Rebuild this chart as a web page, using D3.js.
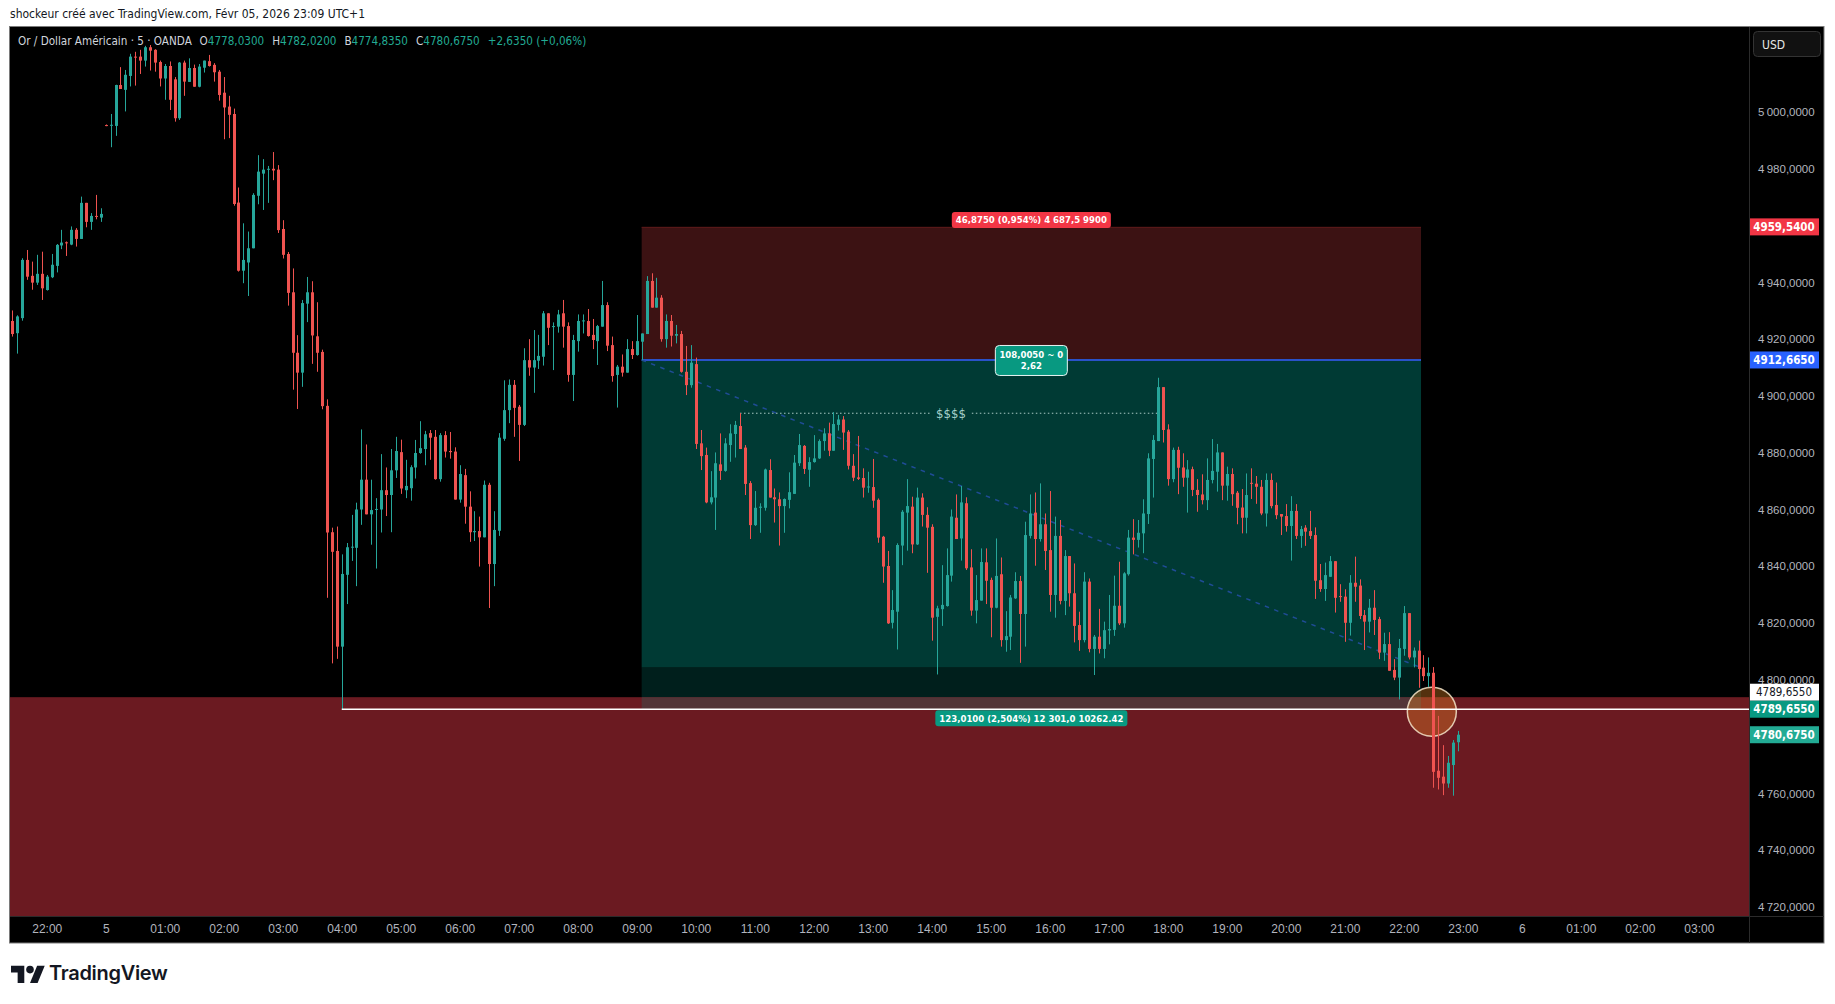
<!DOCTYPE html>
<html>
<head>
<meta charset="utf-8">
<script src="https://cdn.jsdelivr.net/npm/d3@7"></script>
<style>
    html, body { margin: 0; padding: 0; background: #ffffff; }
    svg { display: block; font-family: "Liberation Sans Narrow", "DejaVu Sans Condensed", "Liberation Sans", sans-serif; }
</style>
</head>
<body>
<svg id="chart" width="1835" height="1004"></svg>
<script>
// XAUUSD 5 min candles, Feb 4 22:00 -> Feb 5 22:55
const opens = [
    4926.4, 4922.1, 4927.4, 4947.9, 4942.3, 4939.9, 4943.0, 4937.3, 4941.8, 4945.8,
    4953.0, 4954.1, 4953.3, 4958.5, 4955.3, 4968.0, 4961.3, 4963.4, 4962.8, 4995.4,
    4995.2, 4995.1, 5009.5, 5007.8, 5012.7, 5019.5, 5019.5, 5018.1, 5022.8, 5021.9,
    5017.6, 5011.8, 5016.2, 5011.5, 4997.8, 5017.4, 5010.6, 5015.5, 5008.9, 5015.6,
    5017.9, 5016.6, 5014.2, 5006.8, 5001.9, 4999.3, 4968.1, 4944.1, 4947.0, 4952.0,
    4970.5, 4978.3, 4979.7, 4980.0, 4979.7, 4958.8, 4950.0, 4936.5, 4915.2, 4908.2,
    4932.5, 4936.5, 4921.0, 4915.5, 4896.5, 4852.0, 4845.4, 4811.7, 4837.0, 4846.7,
    4846.5, 4860.0, 4870.5, 4858.3, 4860.0, 4860.0, 4866.8, 4865.1, 4873.8, 4880.2,
    4866.8, 4867.5, 4874.8, 4879.9, 4881.3, 4886.9, 4885.6, 4870.7, 4886.2, 4880.6,
    4880.4, 4863.5, 4872.1, 4861.0, 4852.0, 4852.4, 4850.2, 4868.7, 4840.8, 4852.5,
    4884.9, 4895.0, 4903.9, 4896.2, 4889.8, 4912.6, 4910.0, 4912.4, 4913.8, 4929.1,
    4924.4, 4924.4, 4929.1, 4924.6, 4907.4, 4919.3, 4926.4, 4926.4, 4921.5, 4919.3,
    4924.4, 4932.0, 4917.9, 4907.4, 4910.3, 4908.2, 4916.5, 4914.4, 4919.1, 4921.8,
    4940.5, 4931.1, 4934.6, 4920.0, 4926.4, 4921.2, 4921.8, 4908.5, 4903.8, 4911.2,
    4883.3, 4879.2, 4862.5, 4864.2, 4875.9, 4873.6, 4882.7, 4886.6, 4889.4, 4881.8,
    4869.3, 4854.5, 4860.6, 4860.6, 4873.9, 4864.3, 4863.6, 4861.2, 4863.4, 4865.5,
    4876.3, 4882.4, 4874.0, 4876.7, 4878.0, 4884.1, 4886.8, 4880.7, 4889.8, 4891.7,
    4887.4, 4875.4, 4871.3, 4871.1, 4867.9, 4867.9, 4863.4, 4850.4, 4840.1, 4820.1,
    4824.0, 4847.3, 4858.9, 4861.0, 4847.7, 4864.2, 4858.1, 4853.9, 4822.2, 4824.9,
    4826.0, 4836.7, 4857.1, 4849.8, 4862.2, 4839.6, 4824.4, 4827.9, 4841.4, 4835.2,
    4825.4, 4837.2, 4814.0, 4815.2, 4828.7, 4834.8, 4823.2, 4850.7, 4858.9, 4849.6,
    4854.8, 4845.7, 4829.9, 4850.7, 4827.8, 4843.6, 4830.5, 4819.3, 4814.0, 4834.6,
    4810.9, 4815.2, 4810.9, 4817.4, 4817.6, 4826.1, 4819.9, 4837.2, 4850.1, 4849.3,
    4851.6, 4858.4, 4877.8, 4884.1, 4903.1, 4888.2, 4870.7, 4881.0, 4874.8, 4871.2,
    4874.2, 4866.9, 4865.3, 4863.3, 4870.4, 4873.3, 4880.1, 4868.4, 4872.5, 4865.9,
    4860.7, 4857.1, 4869.4, 4869.1, 4868.0, 4858.6, 4870.4, 4861.6, 4858.4, 4857.7,
    4854.2, 4859.5, 4850.7, 4853.6, 4852.4, 4851.0, 4835.1, 4832.0, 4836.3, 4841.8,
    4829.5, 4829.3, 4820.1, 4834.2, 4833.2, 4822.8, 4820.5, 4825.4, 4821.4, 4809.6,
    4812.6, 4803.5, 4800.8, 4810.9, 4823.5, 4807.9, 4810.3, 4804.3, 4801.3, 4802.5,
    4768.0, 4765.9, 4763.5, 4770.0, 4778.03
];
const highs = [
    4930.1, 4928.4, 4948.5, 4951.4, 4947.3, 4949.7, 4950.8, 4942.6, 4950.0, 4953.5,
    4958.5, 4954.4, 4959.7, 4959.1, 4970.2, 4968.0, 4964.4, 4970.8, 4966.1, 4995.6,
    4999.3, 5009.6, 5015.8, 5014.8, 5020.5, 5021.2, 5021.9, 5023.3, 5023.6, 5022.1,
    5018.1, 5016.9, 5017.8, 5012.3, 5017.6, 5018.1, 5018.9, 5016.7, 5016.9, 5018.1,
    5020.1, 5017.2, 5014.8, 5012.3, 5005.7, 5001.2, 4973.4, 4960.8, 4957.9, 4971.4,
    4984.8, 4983.4, 4981.0, 4985.9, 4981.3, 4961.9, 4950.7, 4944.9, 4921.4, 4933.8,
    4941.9, 4940.4, 4933.0, 4916.3, 4898.8, 4853.6, 4854.0, 4844.2, 4848.2, 4858.1,
    4862.4, 4888.2, 4882.9, 4870.5, 4864.0, 4879.5, 4874.8, 4881.3, 4885.6, 4884.6,
    4877.5, 4875.6, 4884.5, 4891.1, 4887.7, 4888.0, 4888.0, 4886.9, 4887.6, 4887.3,
    4881.9, 4875.6, 4874.3, 4866.4, 4859.4, 4857.5, 4870.2, 4869.4, 4859.4, 4886.9,
    4905.5, 4905.8, 4905.6, 4896.8, 4916.8, 4920.0, 4923.2, 4921.5, 4929.9, 4929.1,
    4925.9, 4930.3, 4933.8, 4925.9, 4921.5, 4928.7, 4928.7, 4930.6, 4927.1, 4925.0,
    4940.5, 4933.0, 4920.9, 4910.9, 4914.6, 4920.0, 4919.3, 4928.5, 4922.0, 4942.2,
    4943.2, 4941.6, 4935.5, 4928.7, 4928.5, 4925.0, 4922.9, 4917.6, 4917.9, 4913.5,
    4888.0, 4881.8, 4873.5, 4880.1, 4886.8, 4885.1, 4890.0, 4891.2, 4893.9, 4882.7,
    4870.0, 4866.5, 4862.2, 4874.4, 4877.7, 4867.4, 4866.0, 4863.9, 4873.1, 4879.2,
    4886.6, 4882.7, 4878.4, 4886.2, 4884.7, 4888.6, 4890.6, 4894.3, 4893.3, 4892.9,
    4888.0, 4879.5, 4885.9, 4874.5, 4873.3, 4877.8, 4863.9, 4850.7, 4845.4, 4831.6,
    4848.1, 4859.8, 4870.7, 4864.5, 4867.7, 4865.7, 4860.8, 4854.8, 4826.1, 4840.4,
    4846.3, 4860.0, 4865.3, 4868.3, 4864.3, 4846.0, 4836.9, 4846.3, 4846.3, 4836.0,
    4849.8, 4843.1, 4824.2, 4829.9, 4837.9, 4836.6, 4855.7, 4865.3, 4866.0, 4869.2,
    4858.6, 4866.5, 4857.5, 4856.3, 4845.7, 4843.6, 4841.0, 4824.0, 4837.9, 4835.7,
    4815.8, 4825.0, 4820.5, 4829.9, 4836.7, 4841.6, 4837.9, 4852.8, 4856.6, 4856.3,
    4863.6, 4879.8, 4886.2, 4906.4, 4903.1, 4890.0, 4881.8, 4882.1, 4879.8, 4877.4,
    4875.1, 4870.7, 4872.4, 4878.0, 4884.8, 4883.1, 4880.1, 4875.1, 4874.5, 4866.5,
    4867.2, 4872.7, 4874.5, 4871.8, 4870.4, 4872.7, 4872.7, 4869.5, 4858.4, 4861.9,
    4864.7, 4861.9, 4854.2, 4854.5, 4859.5, 4853.7, 4840.8, 4841.3, 4843.6, 4841.8,
    4833.7, 4831.9, 4836.9, 4843.4, 4835.4, 4824.6, 4828.5, 4831.6, 4822.2, 4816.6,
    4816.8, 4807.3, 4814.4, 4826.0, 4823.5, 4811.4, 4813.8, 4808.7, 4807.9, 4804.5,
    4787.3, 4777.0, 4773.2, 4778.8, 4782.02
];
const lows = [
    4920.9, 4914.9, 4926.5, 4940.9, 4937.4, 4939.1, 4933.8, 4937.1, 4941.5, 4943.5,
    4951.7, 4949.3, 4953.1, 4952.6, 4955.3, 4959.4, 4958.5, 4962.2, 4961.3, 4995.0,
    4987.6, 4991.6, 5008.1, 5000.2, 5009.0, 5009.3, 5013.4, 5016.0, 5014.6, 5014.2,
    5009.0, 5004.3, 5000.7, 4996.6, 4997.2, 5005.7, 5010.6, 5008.9, 5008.7, 5013.9,
    5016.0, 5010.7, 5004.0, 4990.4, 4990.8, 4967.0, 4943.8, 4939.7, 4935.2, 4952.0,
    4967.5, 4965.5, 4968.0, 4976.0, 4957.4, 4948.4, 4931.8, 4902.2, 4895.4, 4903.2,
    4926.0, 4911.3, 4908.5, 4895.3, 4828.9, 4805.8, 4807.4, 4789.655, 4826.7, 4841.9,
    4833.0, 4854.6, 4858.3, 4847.6, 4839.2, 4851.9, 4857.7, 4852.0, 4871.1, 4865.5,
    4864.0, 4863.1, 4870.9, 4879.6, 4875.6, 4877.5, 4870.5, 4869.8, 4878.3, 4877.9,
    4863.5, 4862.4, 4855.0, 4848.6, 4848.9, 4839.9, 4850.2, 4825.3, 4833.0, 4850.7,
    4884.2, 4890.4, 4885.6, 4877.1, 4889.4, 4907.1, 4901.1, 4909.5, 4910.7, 4917.9,
    4909.1, 4922.3, 4917.0, 4905.0, 4898.2, 4915.6, 4922.0, 4920.9, 4916.5, 4910.9,
    4924.4, 4915.8, 4905.0, 4895.9, 4906.8, 4908.2, 4913.0, 4914.2, 4912.6, 4921.8,
    4931.1, 4931.1, 4919.1, 4917.0, 4917.4, 4918.5, 4908.2, 4900.3, 4902.9, 4881.3,
    4873.9, 4862.2, 4861.8, 4852.8, 4870.4, 4873.3, 4876.8, 4878.3, 4881.3, 4865.1,
    4849.6, 4854.2, 4851.8, 4859.6, 4864.2, 4855.4, 4847.3, 4851.8, 4860.4, 4865.5,
    4875.3, 4872.5, 4868.0, 4876.5, 4877.8, 4880.7, 4878.8, 4880.7, 4887.8, 4881.0,
    4874.1, 4870.0, 4870.4, 4864.2, 4865.9, 4860.6, 4848.3, 4834.2, 4819.7, 4818.1,
    4810.7, 4840.4, 4845.5, 4844.6, 4847.5, 4854.0, 4837.7, 4813.8, 4801.9, 4819.0,
    4825.8, 4834.6, 4849.6, 4842.0, 4838.7, 4822.6, 4819.9, 4827.9, 4826.7, 4815.0,
    4825.2, 4811.7, 4809.9, 4810.5, 4828.5, 4806.0, 4811.7, 4849.8, 4840.2, 4848.7,
    4838.7, 4824.0, 4821.9, 4826.6, 4822.8, 4825.8, 4813.2, 4810.2, 4813.2, 4809.7,
    4801.7, 4809.3, 4807.6, 4812.5, 4815.5, 4819.3, 4818.4, 4836.7, 4844.2, 4846.6,
    4844.6, 4854.9, 4864.2, 4884.1, 4883.6, 4868.4, 4869.6, 4865.4, 4868.0, 4858.9,
    4864.7, 4859.2, 4861.8, 4859.8, 4869.2, 4866.3, 4863.3, 4863.1, 4861.3, 4854.8,
    4851.6, 4851.6, 4863.7, 4862.0, 4858.0, 4854.0, 4860.4, 4856.6, 4851.0, 4852.2,
    4842.0, 4849.6, 4846.5, 4847.2, 4849.6, 4828.5, 4831.0, 4827.8, 4836.3, 4823.7,
    4827.5, 4813.4, 4815.6, 4827.5, 4821.4, 4810.5, 4816.7, 4815.8, 4807.3, 4806.7,
    4803.2, 4799.9, 4793.1, 4808.5, 4807.2, 4804.4, 4797.2, 4799.6, 4797.5, 4762.0,
    4761.4, 4759.4, 4762.0, 4759.2, 4774.835
];
const closes = [
    4921.8, 4928.0, 4947.9, 4942.0, 4939.9, 4943.0, 4937.9, 4942.0, 4946.2, 4953.2,
    4954.0, 4953.8, 4958.5, 4955.3, 4968.0, 4961.3, 4963.4, 4963.1, 4964.1, 4995.2,
    4995.5, 5009.5, 5008.1, 5013.1, 5019.5, 5019.3, 5018.1, 5022.8, 5021.6, 5017.4,
    5011.8, 5016.2, 5004.3, 4997.8, 5017.4, 5010.7, 5015.5, 5008.9, 5016.0, 5018.1,
    5016.2, 5014.0, 5006.0, 5001.6, 4999.0, 4967.6, 4944.1, 4947.9, 4952.0, 4970.8,
    4979.0, 4979.7, 4980.0, 4979.4, 4958.4, 4949.7, 4936.3, 4915.2, 4908.2, 4932.7,
    4936.5, 4921.3, 4915.2, 4896.4, 4851.9, 4845.1, 4811.7, 4837.3, 4846.7, 4846.9,
    4860.0, 4870.5, 4858.3, 4859.8, 4860.2, 4866.8, 4865.1, 4873.8, 4880.6, 4867.4,
    4868.3, 4874.9, 4879.9, 4881.6, 4886.5, 4885.3, 4870.7, 4886.2, 4880.4, 4880.2,
    4863.5, 4872.5, 4861.0, 4852.0, 4852.4, 4850.2, 4868.7, 4840.8, 4852.8, 4885.3,
    4895.0, 4903.9, 4895.8, 4889.8, 4912.6, 4910.0, 4912.6, 4914.1, 4929.1, 4924.0,
    4924.6, 4928.7, 4924.4, 4907.4, 4919.7, 4926.4, 4926.6, 4921.1, 4919.7, 4924.6,
    4932.0, 4917.7, 4907.0, 4910.3, 4908.2, 4916.5, 4914.4, 4919.3, 4922.0, 4940.5,
    4931.1, 4934.6, 4920.0, 4926.4, 4921.2, 4921.8, 4908.5, 4903.8, 4911.7, 4883.1,
    4878.8, 4862.5, 4864.3, 4876.3, 4873.6, 4883.3, 4886.8, 4889.8, 4881.3, 4869.0,
    4854.5, 4860.6, 4861.0, 4874.1, 4864.2, 4863.6, 4861.2, 4863.7, 4866.1, 4876.5,
    4882.7, 4874.3, 4876.7, 4878.0, 4884.1, 4886.8, 4880.7, 4890.1, 4891.7, 4887.1,
    4875.4, 4871.2, 4870.8, 4867.7, 4868.1, 4863.1, 4850.1, 4839.9, 4819.9, 4824.6,
    4847.5, 4859.2, 4861.2, 4847.7, 4864.2, 4858.1, 4853.6, 4821.9, 4825.2, 4826.4,
    4836.9, 4857.5, 4849.6, 4862.5, 4839.3, 4824.4, 4828.1, 4841.5, 4834.9, 4825.4,
    4836.6, 4814.0, 4815.4, 4829.0, 4834.8, 4823.2, 4851.0, 4858.6, 4849.6, 4854.8,
    4845.4, 4829.9, 4850.7, 4827.8, 4843.6, 4830.5, 4819.0, 4814.0, 4834.6, 4810.9,
    4815.2, 4810.9, 4817.5, 4817.9, 4826.1, 4819.9, 4837.5, 4850.1, 4849.3, 4851.8,
    4858.6, 4878.0, 4884.5, 4903.1, 4888.0, 4870.7, 4881.0, 4874.7, 4871.2, 4874.1,
    4866.9, 4865.1, 4863.3, 4870.4, 4873.6, 4880.1, 4868.4, 4872.5, 4865.4, 4860.6,
    4857.1, 4865.1, 4869.1, 4868.0, 4858.6, 4870.4, 4861.2, 4858.0, 4857.5, 4854.2,
    4859.5, 4850.7, 4853.1, 4852.2, 4850.7, 4834.9, 4832.0, 4836.9, 4841.8, 4828.9,
    4829.2, 4820.1, 4834.2, 4832.8, 4822.5, 4820.5, 4825.4, 4821.1, 4809.6, 4812.6,
    4803.2, 4800.8, 4811.2, 4823.5, 4807.9, 4810.3, 4803.8, 4801.3, 4802.5, 4767.6,
    4765.5, 4763.5, 4770.8, 4777.9, 4780.675
];

// time axis: one label every 12 bars (1 hour), starting at bar 7
const timeTickLabels = ["22:00", "5", "01:00", "02:00", "03:00", "04:00", "05:00", "06:00", "07:00",
    "08:00", "09:00", "10:00", "11:00", "12:00", "13:00", "14:00", "15:00", "16:00", "17:00",
    "18:00", "19:00", "20:00", "21:00", "22:00", "23:00", "6", "01:00", "02:00", "03:00"];
const timeTickBars = d3.range(7, 7 + 12 * timeTickLabels.length, 12);
const priceTicks = [4720, 4740, 4760, 4780, 4800, 4820, 4840, 4860, 4880, 4900, 4920, 4940, 4960, 4980, 5000];

// drawings
const stopPrice = 4959.54;
const entryPrice = 4912.665;
const targetPrice = 4789.655;
const lastPrice = 4780.675;
const toolBars = [128, 286.5];
const closePrice = 4804.3;      // end of the dashed line / top of the dark band
const zoneTop = 4793.9;         // top of the red demand zone
const levelBar = 67;            // 04:00 low where the white level starts
const liquidity = { price: 4893.9, from: 148, to: 233.4, label: "$$$$", labelBar: 190.9 };
const circleAt = { bar: 288.7, price: 4788.8 };

const headerText = "shockeur créé avec TradingView.com, Févr 05, 2026 23:09 UTC+1";
const legendParts = [
    { t: "Or / Dollar Américain · 5 · OANDA", c: "#d1d4dc" },
    { t: "O", c: "#d1d4dc", dx: 8 }, { t: "4778,0300", c: "#22ab94" },
    { t: "H", c: "#d1d4dc", dx: 8 }, { t: "4782,0200", c: "#22ab94" },
    { t: "B", c: "#d1d4dc", dx: 8 }, { t: "4774,8350", c: "#22ab94" },
    { t: "C", c: "#d1d4dc", dx: 8 }, { t: "4780,6750", c: "#22ab94" },
    { t: "+2,6350 (+0,06%)", c: "#22ab94", dx: 8 }
];
const stopLabel = "46,8750 (0,954%) 4 687,5 9900";
const entryLabel = ["108,0050 ~ 0", "2,62"];
const targetLabel = "123,0100 (2,504%) 12 301,0 10262.42";

// ------------------------------------------------------------------
const plot = { left: 10, top: 27, right: 1749, bottom: 916 };
const frame = { right: 1824, bottom: 943 };
const up = "#26a69a", down = "#ef5350";

const x = d3.scaleLinear().domain([0, 343]).range([12.3, 12.3 + 343 * 4.917]);
const y = d3.scaleLinear().domain([4720, 5000]).range([907, 112]);

const svg = d3.select("#chart");

const fmtPrice = v => v.toFixed(4).replace(".", ",");
const fmtTick = v => { const s = fmtPrice(v); return s.slice(0, 1) + "\u2009" + s.slice(1); };

// header line above the chart
svg.append("text")
    .attr("x", 10).attr("y", 18)
    .attr("font-size", 12).attr("fill", "#131722")
    .text(headerText);

// chart frame
svg.append("rect")
    .attr("x", 9.5).attr("y", 26.5)
    .attr("width", frame.right - 9.5).attr("height", frame.bottom - 26.5)
    .attr("fill", "#000").attr("stroke", "#7a7a7a");

svg.append("defs").append("clipPath").attr("id", "plotClip")
    .append("rect")
    .attr("x", plot.left).attr("y", plot.top)
    .attr("width", plot.right - plot.left).attr("height", plot.bottom - plot.top);

const g = svg.append("g").attr("clip-path", "url(#plotClip)");

// red demand zone across the whole plot
g.append("rect")
    .attr("x", plot.left).attr("y", y(zoneTop))
    .attr("width", plot.right - plot.left).attr("height", plot.bottom - y(zoneTop))
    .attr("fill", "#6b1a21");

// short/long position tool
const tx0 = x(toolBars[0]), tx1 = x(toolBars[1]);
g.append("rect").attr("x", tx0).attr("width", tx1 - tx0)
    .attr("y", y(stopPrice)).attr("height", y(entryPrice) - y(stopPrice))
    .attr("fill", "#3c1213");
g.append("line").attr("x1", tx0).attr("x2", tx1)
    .attr("y1", y(stopPrice) + 0.5).attr("y2", y(stopPrice) + 0.5)
    .attr("stroke", "#5c1a1a");
g.append("rect").attr("x", tx0).attr("width", tx1 - tx0)
    .attr("y", y(entryPrice)).attr("height", y(closePrice) - y(entryPrice))
    .attr("fill", "#003a34");
g.append("rect").attr("x", tx0).attr("width", tx1 - tx0)
    .attr("y", y(closePrice)).attr("height", y(zoneTop) - y(closePrice))
    .attr("fill", "#001f1c");
g.append("rect").attr("x", tx0).attr("width", tx1 - tx0)
    .attr("y", y(zoneTop)).attr("height", y(targetPrice) - y(zoneTop))
    .attr("fill", "#533437");
g.append("line").attr("x1", tx0).attr("x2", tx1)
    .attr("y1", y(entryPrice)).attr("y2", y(entryPrice))
    .attr("stroke", "#2a52c9").attr("stroke-width", 2);
g.append("line")
    .attr("x1", tx0).attr("y1", y(entryPrice))
    .attr("x2", tx1).attr("y2", y(closePrice))
    .attr("stroke", "#1f4c96").attr("stroke-width", 1.5)
    .attr("stroke-dasharray", "4.5 5.5");

// liquidity dotted line with its $$$$ tag
const liqText = g.append("text")
    .attr("x", x(liquidity.labelBar)).attr("y", y(liquidity.price) + 4.5)
    .attr("text-anchor", "middle").attr("font-size", 13)
    .attr("fill", "#a9d4ce").text(liquidity.label);
const liqBox = liqText.node().getBBox();
[[x(liquidity.from), liqBox.x - 6], [liqBox.x + liqBox.width + 6, x(liquidity.to)]].forEach(([a, b]) => {
    g.append("line")
        .attr("x1", a).attr("x2", b)
        .attr("y1", y(liquidity.price)).attr("y2", y(liquidity.price))
        .attr("stroke", "#a9c9c5").attr("stroke-width", 1)
        .attr("stroke-dasharray", "1.5 2.5");
});

// highlight circle
g.append("circle")
    .attr("cx", x(circleAt.bar)).attr("cy", y(circleAt.price)).attr("r", 24.5)
    .attr("fill", "rgba(240,140,40,0.35)")
    .attr("stroke", "rgba(245,228,200,0.85)").attr("stroke-width", 1.5);

// candles
const candles = opens.map((o, i) => ({ i, o, h: highs[i], l: lows[i], c: closes[i] }));
const cx = d => Math.round(x(d.i));
g.append("g").selectAll("line")
    .data(candles).join("line")
    .attr("x1", d => cx(d) + 0.5).attr("x2", d => cx(d) + 0.5)
    .attr("y1", d => y(d.h)).attr("y2", d => y(d.l))
    .attr("stroke", d => d.c >= d.o ? up : down);
g.append("g").selectAll("rect")
    .data(candles).join("rect")
    .attr("x", d => cx(d) - 1).attr("width", 3)
    .attr("y", d => y(Math.max(d.o, d.c)))
    .attr("height", d => Math.max(1, Math.abs(y(d.o) - y(d.c))))
    .attr("fill", d => d.c >= d.o ? up : down);

// white level from the 04:00 low
g.append("line")
    .attr("x1", x(levelBar)).attr("x2", plot.right)
    .attr("y1", y(targetPrice)).attr("y2", y(targetPrice))
    .attr("stroke", "#ffffff").attr("stroke-width", 1.5);

// labels of the position tool
const tmid = (tx0 + tx1) / 2;
function tagLabel(lines, fill, cy, stroke) {
    const lg = svg.append("g");
    const rect = lg.append("rect").attr("fill", fill).attr("rx", 3);
    const txt = lg.append("text").attr("text-anchor", "middle")
        .attr("font-size", 9.5).attr("font-weight", "bold").attr("fill", "#fff");
    lines.forEach((l, i) => txt.append("tspan")
        .attr("x", tmid).attr("y", cy + 3.5 + (i - (lines.length - 1) / 2) * 11).text(l));
    const b = txt.node().getBBox();
    const h = lines.length * 11 + 5 + (lines.length > 1 ? 3 : 0);
    rect.attr("x", tmid - b.width / 2 - 4).attr("width", b.width + 8)
        .attr("y", cy - h / 2).attr("height", h);
    if (stroke) rect.attr("stroke", stroke).attr("stroke-width", 1).attr("rx", 4);
}
tagLabel([stopLabel], "#f23645", y(stopPrice) - 7);
tagLabel(entryLabel, "#089981", y(entryPrice) + 0.5, "#e8f5f3");
tagLabel([targetLabel], "#089981", y(targetPrice) + 9);

// inner separators
svg.append("line").attr("x1", plot.right + 0.5).attr("x2", plot.right + 0.5)
    .attr("y1", plot.top).attr("y2", frame.bottom).attr("stroke", "#2b2b2b");
svg.append("line").attr("x1", plot.left).attr("x2", frame.right)
    .attr("y1", plot.bottom + 0.5).attr("y2", plot.bottom + 0.5).attr("stroke", "#2b2b2b");

// coloured price tags on the axis
const priceTags = [
    { v: stopPrice, bg: "#f23645", fg: "#ffffff", shift: 0 },
    { v: entryPrice, bg: "#2962ff", fg: "#ffffff", shift: 0 },
    { v: targetPrice, bg: "#ffffff", fg: "#131722", shift: -17 },
    { v: targetPrice, bg: "#089981", fg: "#ffffff", shift: 0 },
    { v: lastPrice, bg: "#22ab94", fg: "#ffffff", shift: 0 }
];

// price axis (ticks hidden behind a tag are dropped, as on the platform)
const visibleTicks = priceTicks.filter(t => priceTags.every(p => Math.abs(y(t) - (y(p.v) + p.shift)) > 10));
const yAxis = svg.append("g")
    .attr("transform", `translate(${plot.right},0)`)
    .call(d3.axisRight(y).tickValues(visibleTicks).tickFormat(fmtTick).tickSize(0).tickPadding(9));
yAxis.select(".domain").remove();
yAxis.selectAll("text").attr("fill", "#b2b5be").attr("font-size", 11.5)
    .attr("font-family", null);

// time axis
const xAxis = svg.append("g")
    .attr("transform", `translate(0,${plot.bottom})`)
    .call(d3.axisBottom(x).tickValues(timeTickBars).tickFormat((d, i) => timeTickLabels[i]).tickSize(0).tickPadding(8));
xAxis.select(".domain").remove();
xAxis.selectAll("text").attr("fill", "#b2b5be").attr("font-size", 12)
    .attr("font-family", null);

priceTags.forEach(p => {
    const cy = y(p.v) + p.shift;
    svg.append("rect").attr("x", plot.right + 1).attr("y", cy - 8.5)
        .attr("width", 69).attr("height", 17).attr("fill", p.bg);
    svg.append("text").attr("x", plot.right + 35).attr("y", cy + 4)
        .attr("text-anchor", "middle")
        .attr("font-size", 11.5).attr("font-weight", p.bg === "#ffffff" ? "normal" : "bold")
        .attr("fill", p.fg).text(fmtPrice(p.v));
});

// currency button
svg.append("rect").attr("x", 1753.5).attr("y", 31.5).attr("width", 67).attr("height", 25)
    .attr("rx", 4).attr("fill", "#111").attr("stroke", "#333");
svg.append("text").attr("x", 1762).attr("y", 48.5).attr("font-size", 12)
    .attr("fill", "#e6e6e6").text("USD");

// legend inside the chart
const legend = svg.append("text").attr("x", 18).attr("y", 45).attr("font-size", 11.6);
legendParts.forEach(p => {
    const s = legend.append("tspan").attr("fill", p.c).text(p.t);
    if (p.dx) s.attr("dx", p.dx);
});

// TradingView logo under the chart
const logo = svg.append("g").attr("transform", "translate(11,962) scale(0.95)").attr("fill", "#131722");
logo.append("path").attr("d", "M14 22H7V11H0V4h14v18z");
logo.append("path").attr("d", "M28 22h-8l7.5-18h8z");
logo.append("circle").attr("cx", 20).attr("cy", 8).attr("r", 4);
svg.append("text").attr("x", 49).attr("y", 980)
    .attr("font-family", "Inter, 'Liberation Sans', sans-serif")
    .attr("font-size", 20).attr("font-weight", 600).attr("letter-spacing", -0.3)
    .attr("fill", "#131722").text("TradingView");
</script>
</body>
</html>
